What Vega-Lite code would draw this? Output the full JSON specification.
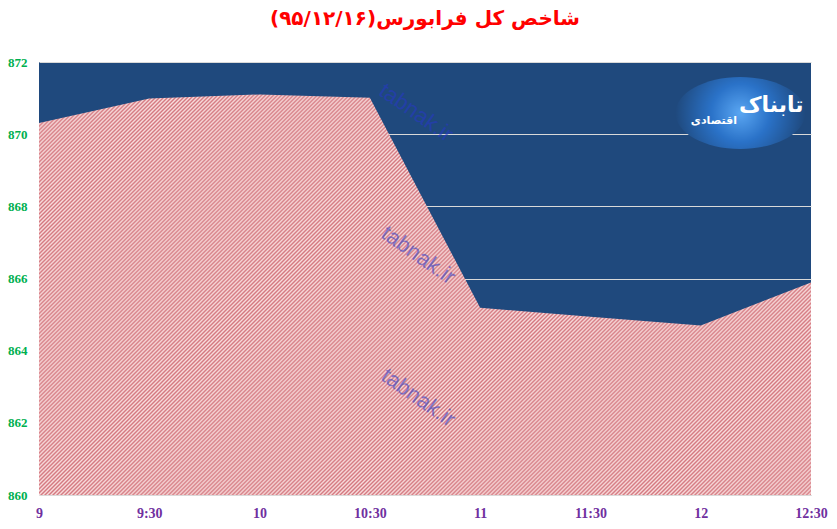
{
  "$schema": "https://vega.github.io/schema/vega-lite/v6.json",
  "width": 772,
  "height": 433,
  "autosize": "none",
  "padding": {"left": 39, "top": 62, "right": 26, "bottom": 34},
  "background": "white",
  "title": {
    "text": "شاخص کل فرابورس(۹۵/۱۲/۱۶)\u200f",
    "font": "DejaVu Sans",
    "fontSize": 20,
    "fontWeight": "bold",
    "color": "#ff0000",
    "anchor": "middle",
    "offset": 27
  },
  "config": {
    "view": {"fill": "#1f497d", "stroke": null}
  },
  "datasets": {
    "index": [
      {"time": "9", "hour": 9, "value": 870.31},
      {"time": "9:30", "hour": 9.5, "value": 870.99},
      {"time": "10", "hour": 10, "value": 871.1},
      {"time": "10:30", "hour": 10.5, "value": 871.01},
      {"time": "11", "hour": 11, "value": 865.19},
      {"time": "11:30", "hour": 11.5, "value": 864.94},
      {"time": "12", "hour": 12, "value": 864.7},
      {"time": "12:30", "hour": 12.5, "value": 865.89}
    ],
    "watermark": [
      {"label": "tabnak.ir", "hour": 10.71, "value": 870.6},
      {"label": "tabnak.ir", "hour": 10.72, "value": 866.65},
      {"label": "tabnak.ir", "hour": 10.72, "value": 862.7}
    ],
    "logo": [{"hour": 12.18, "value": 870.59}],
    "logoName": [{"label": "تابناک", "hour": 12.32, "value": 870.8}],
    "logoSub": [{"label": "اقتصادی", "hour": 12.06, "value": 870.36}]
  },
  "encoding": {
    "x": {
      "field": "hour",
      "type": "quantitative",
      "scale": {"domain": [9, 12.5], "nice": false, "zero": false},
      "axis": {
        "values": [9, 9.5, 10, 10.5, 11, 11.5, 12, 12.5],
        "labelExpr": "datum.value % 1 ? floor(datum.value) + ':30' : datum.value",
        "title": null,
        "grid": false,
        "ticks": false,
        "domainColor": "#d9d9d9",
        "labelColor": "#7030a0",
        "labelFont": "Liberation Sans Narrow",
        "labelFontSize": 14,
        "labelFontWeight": "bold",
        "labelPadding": 11,
        "labelFlush": false
      }
    },
    "y": {
      "field": "value",
      "type": "quantitative",
      "scale": {"domain": [860, 872], "nice": false, "zero": false},
      "axis": {
        "values": [860, 862, 864, 866, 868, 870, 872],
        "title": null,
        "ticks": false,
        "domain": false,
        "gridColor": "#d9d9d9",
        "gridWidth": 1,
        "labelColor": "#00b050",
        "labelFont": "Liberation Sans Narrow",
        "labelFontSize": 13,
        "labelFontWeight": "bold",
        "labelPadding": 12
      }
    }
  },
  "layer": [
    {
      "data": {"name": "index"},
      "encoding": {"y2": {"datum": 860}},
      "mark": {
        "type": "area",
        "interpolate": "linear",
        "color": {
          "gradient": "linear",
          "x1": 0, "y1": 0, "x2": 1.1966, "y2": 0.621,
          "stops": [
            {"offset": 0, "color": "#d47880"}, {"offset": 0.0017, "color": "#f8dcdc"}, {"offset": 0.0034, "color": "#d47880"}, {"offset": 0.0051, "color": "#f8dcdc"}, {"offset": 0.0068, "color": "#d47880"}, {"offset": 0.0085, "color": "#f8dcdc"}, {"offset": 0.0102, "color": "#d47880"}, {"offset": 0.0119, "color": "#f8dcdc"}, {"offset": 0.0136, "color": "#d47880"}, {"offset": 0.0153, "color": "#f8dcdc"},
            {"offset": 0.017, "color": "#d47880"}, {"offset": 0.0187, "color": "#f8dcdc"}, {"offset": 0.0204, "color": "#d47880"}, {"offset": 0.0221, "color": "#f8dcdc"}, {"offset": 0.0238, "color": "#d47880"}, {"offset": 0.0255, "color": "#f8dcdc"}, {"offset": 0.0272, "color": "#d47880"}, {"offset": 0.0289, "color": "#f8dcdc"}, {"offset": 0.0306, "color": "#d47880"}, {"offset": 0.0323, "color": "#f8dcdc"},
            {"offset": 0.034, "color": "#d47880"}, {"offset": 0.0357, "color": "#f8dcdc"}, {"offset": 0.0374, "color": "#d47880"}, {"offset": 0.0391, "color": "#f8dcdc"}, {"offset": 0.0408, "color": "#d47880"}, {"offset": 0.0425, "color": "#f8dcdc"}, {"offset": 0.0442, "color": "#d47880"}, {"offset": 0.0459, "color": "#f8dcdc"}, {"offset": 0.0476, "color": "#d47880"}, {"offset": 0.0493, "color": "#f8dcdc"},
            {"offset": 0.051, "color": "#d47880"}, {"offset": 0.0527, "color": "#f8dcdc"}, {"offset": 0.0544, "color": "#d47880"}, {"offset": 0.0561, "color": "#f8dcdc"}, {"offset": 0.0578, "color": "#d47880"}, {"offset": 0.0595, "color": "#f8dcdc"}, {"offset": 0.0612, "color": "#d47880"}, {"offset": 0.0629, "color": "#f8dcdc"}, {"offset": 0.0646, "color": "#d47880"}, {"offset": 0.0663, "color": "#f8dcdc"},
            {"offset": 0.068, "color": "#d47880"}, {"offset": 0.0697, "color": "#f8dcdc"}, {"offset": 0.0714, "color": "#d47880"}, {"offset": 0.0731, "color": "#f8dcdc"}, {"offset": 0.0748, "color": "#d47880"}, {"offset": 0.0765, "color": "#f8dcdc"}, {"offset": 0.0782, "color": "#d47880"}, {"offset": 0.0799, "color": "#f8dcdc"}, {"offset": 0.0816, "color": "#d47880"}, {"offset": 0.0833, "color": "#f8dcdc"},
            {"offset": 0.085, "color": "#d47880"}, {"offset": 0.0867, "color": "#f8dcdc"}, {"offset": 0.0884, "color": "#d47880"}, {"offset": 0.0901, "color": "#f8dcdc"}, {"offset": 0.0918, "color": "#d47880"}, {"offset": 0.0935, "color": "#f8dcdc"}, {"offset": 0.0952, "color": "#d47880"}, {"offset": 0.0969, "color": "#f8dcdc"}, {"offset": 0.0986, "color": "#d47880"}, {"offset": 0.1003, "color": "#f8dcdc"},
            {"offset": 0.102, "color": "#d47880"}, {"offset": 0.1037, "color": "#f8dcdc"}, {"offset": 0.1054, "color": "#d47880"}, {"offset": 0.1071, "color": "#f8dcdc"}, {"offset": 0.1088, "color": "#d47880"}, {"offset": 0.1105, "color": "#f8dcdc"}, {"offset": 0.1122, "color": "#d47880"}, {"offset": 0.1139, "color": "#f8dcdc"}, {"offset": 0.1156, "color": "#d47880"}, {"offset": 0.1173, "color": "#f8dcdc"},
            {"offset": 0.119, "color": "#d47880"}, {"offset": 0.1207, "color": "#f8dcdc"}, {"offset": 0.1224, "color": "#d47880"}, {"offset": 0.1241, "color": "#f8dcdc"}, {"offset": 0.1258, "color": "#d47880"}, {"offset": 0.1275, "color": "#f8dcdc"}, {"offset": 0.1292, "color": "#d47880"}, {"offset": 0.1309, "color": "#f8dcdc"}, {"offset": 0.1326, "color": "#d47880"}, {"offset": 0.1343, "color": "#f8dcdc"},
            {"offset": 0.136, "color": "#d47880"}, {"offset": 0.1377, "color": "#f8dcdc"}, {"offset": 0.1394, "color": "#d47880"}, {"offset": 0.1411, "color": "#f8dcdc"}, {"offset": 0.1428, "color": "#d47880"}, {"offset": 0.1445, "color": "#f8dcdc"}, {"offset": 0.1462, "color": "#d47880"}, {"offset": 0.1479, "color": "#f8dcdc"}, {"offset": 0.1496, "color": "#d47880"}, {"offset": 0.1513, "color": "#f8dcdc"},
            {"offset": 0.153, "color": "#d47880"}, {"offset": 0.1547, "color": "#f8dcdc"}, {"offset": 0.1564, "color": "#d47880"}, {"offset": 0.1581, "color": "#f8dcdc"}, {"offset": 0.1598, "color": "#d47880"}, {"offset": 0.1615, "color": "#f8dcdc"}, {"offset": 0.1632, "color": "#d47880"}, {"offset": 0.1649, "color": "#f8dcdc"}, {"offset": 0.1666, "color": "#d47880"}, {"offset": 0.1683, "color": "#f8dcdc"},
            {"offset": 0.17, "color": "#d47880"}, {"offset": 0.1717, "color": "#f8dcdc"}, {"offset": 0.1734, "color": "#d47880"}, {"offset": 0.1751, "color": "#f8dcdc"}, {"offset": 0.1768, "color": "#d47880"}, {"offset": 0.1785, "color": "#f8dcdc"}, {"offset": 0.1802, "color": "#d47880"}, {"offset": 0.1819, "color": "#f8dcdc"}, {"offset": 0.1836, "color": "#d47880"}, {"offset": 0.1853, "color": "#f8dcdc"},
            {"offset": 0.187, "color": "#d47880"}, {"offset": 0.1887, "color": "#f8dcdc"}, {"offset": 0.1904, "color": "#d47880"}, {"offset": 0.1921, "color": "#f8dcdc"}, {"offset": 0.1938, "color": "#d47880"}, {"offset": 0.1955, "color": "#f8dcdc"}, {"offset": 0.1972, "color": "#d47880"}, {"offset": 0.1989, "color": "#f8dcdc"}, {"offset": 0.2006, "color": "#d47880"}, {"offset": 0.2023, "color": "#f8dcdc"},
            {"offset": 0.204, "color": "#d47880"}, {"offset": 0.2057, "color": "#f8dcdc"}, {"offset": 0.2074, "color": "#d47880"}, {"offset": 0.2091, "color": "#f8dcdc"}, {"offset": 0.2108, "color": "#d47880"}, {"offset": 0.2125, "color": "#f8dcdc"}, {"offset": 0.2142, "color": "#d47880"}, {"offset": 0.2159, "color": "#f8dcdc"}, {"offset": 0.2176, "color": "#d47880"}, {"offset": 0.2193, "color": "#f8dcdc"},
            {"offset": 0.221, "color": "#d47880"}, {"offset": 0.2227, "color": "#f8dcdc"}, {"offset": 0.2244, "color": "#d47880"}, {"offset": 0.2261, "color": "#f8dcdc"}, {"offset": 0.2278, "color": "#d47880"}, {"offset": 0.2295, "color": "#f8dcdc"}, {"offset": 0.2312, "color": "#d47880"}, {"offset": 0.2329, "color": "#f8dcdc"}, {"offset": 0.2346, "color": "#d47880"}, {"offset": 0.2363, "color": "#f8dcdc"},
            {"offset": 0.238, "color": "#d47880"}, {"offset": 0.2397, "color": "#f8dcdc"}, {"offset": 0.2414, "color": "#d47880"}, {"offset": 0.2431, "color": "#f8dcdc"}, {"offset": 0.2448, "color": "#d47880"}, {"offset": 0.2465, "color": "#f8dcdc"}, {"offset": 0.2482, "color": "#d47880"}, {"offset": 0.2499, "color": "#f8dcdc"}, {"offset": 0.2516, "color": "#d47880"}, {"offset": 0.2533, "color": "#f8dcdc"},
            {"offset": 0.255, "color": "#d47880"}, {"offset": 0.2567, "color": "#f8dcdc"}, {"offset": 0.2584, "color": "#d47880"}, {"offset": 0.2601, "color": "#f8dcdc"}, {"offset": 0.2618, "color": "#d47880"}, {"offset": 0.2635, "color": "#f8dcdc"}, {"offset": 0.2652, "color": "#d47880"}, {"offset": 0.2669, "color": "#f8dcdc"}, {"offset": 0.2686, "color": "#d47880"}, {"offset": 0.2703, "color": "#f8dcdc"},
            {"offset": 0.272, "color": "#d47880"}, {"offset": 0.2737, "color": "#f8dcdc"}, {"offset": 0.2754, "color": "#d47880"}, {"offset": 0.2771, "color": "#f8dcdc"}, {"offset": 0.2788, "color": "#d47880"}, {"offset": 0.2805, "color": "#f8dcdc"}, {"offset": 0.2822, "color": "#d47880"}, {"offset": 0.2839, "color": "#f8dcdc"}, {"offset": 0.2856, "color": "#d47880"}, {"offset": 0.2873, "color": "#f8dcdc"},
            {"offset": 0.289, "color": "#d47880"}, {"offset": 0.2907, "color": "#f8dcdc"}, {"offset": 0.2924, "color": "#d47880"}, {"offset": 0.2941, "color": "#f8dcdc"}, {"offset": 0.2958, "color": "#d47880"}, {"offset": 0.2975, "color": "#f8dcdc"}, {"offset": 0.2992, "color": "#d47880"}, {"offset": 0.3009, "color": "#f8dcdc"}, {"offset": 0.3026, "color": "#d47880"}, {"offset": 0.3043, "color": "#f8dcdc"},
            {"offset": 0.306, "color": "#d47880"}, {"offset": 0.3077, "color": "#f8dcdc"}, {"offset": 0.3094, "color": "#d47880"}, {"offset": 0.3111, "color": "#f8dcdc"}, {"offset": 0.3128, "color": "#d47880"}, {"offset": 0.3145, "color": "#f8dcdc"}, {"offset": 0.3162, "color": "#d47880"}, {"offset": 0.3179, "color": "#f8dcdc"}, {"offset": 0.3196, "color": "#d47880"}, {"offset": 0.3213, "color": "#f8dcdc"},
            {"offset": 0.323, "color": "#d47880"}, {"offset": 0.3247, "color": "#f8dcdc"}, {"offset": 0.3264, "color": "#d47880"}, {"offset": 0.3281, "color": "#f8dcdc"}, {"offset": 0.3298, "color": "#d47880"}, {"offset": 0.3315, "color": "#f8dcdc"}, {"offset": 0.3332, "color": "#d47880"}, {"offset": 0.3349, "color": "#f8dcdc"}, {"offset": 0.3366, "color": "#d47880"}, {"offset": 0.3383, "color": "#f8dcdc"},
            {"offset": 0.34, "color": "#d47880"}, {"offset": 0.3417, "color": "#f8dcdc"}, {"offset": 0.3434, "color": "#d47880"}, {"offset": 0.3451, "color": "#f8dcdc"}, {"offset": 0.3468, "color": "#d47880"}, {"offset": 0.3485, "color": "#f8dcdc"}, {"offset": 0.3502, "color": "#d47880"}, {"offset": 0.3519, "color": "#f8dcdc"}, {"offset": 0.3536, "color": "#d47880"}, {"offset": 0.3553, "color": "#f8dcdc"},
            {"offset": 0.357, "color": "#d47880"}, {"offset": 0.3587, "color": "#f8dcdc"}, {"offset": 0.3604, "color": "#d47880"}, {"offset": 0.3621, "color": "#f8dcdc"}, {"offset": 0.3638, "color": "#d47880"}, {"offset": 0.3655, "color": "#f8dcdc"}, {"offset": 0.3672, "color": "#d47880"}, {"offset": 0.3689, "color": "#f8dcdc"}, {"offset": 0.3706, "color": "#d47880"}, {"offset": 0.3723, "color": "#f8dcdc"},
            {"offset": 0.374, "color": "#d47880"}, {"offset": 0.3757, "color": "#f8dcdc"}, {"offset": 0.3774, "color": "#d47880"}, {"offset": 0.3791, "color": "#f8dcdc"}, {"offset": 0.3808, "color": "#d47880"}, {"offset": 0.3825, "color": "#f8dcdc"}, {"offset": 0.3842, "color": "#d47880"}, {"offset": 0.3859, "color": "#f8dcdc"}, {"offset": 0.3876, "color": "#d47880"}, {"offset": 0.3893, "color": "#f8dcdc"},
            {"offset": 0.391, "color": "#d47880"}, {"offset": 0.3927, "color": "#f8dcdc"}, {"offset": 0.3944, "color": "#d47880"}, {"offset": 0.3961, "color": "#f8dcdc"}, {"offset": 0.3978, "color": "#d47880"}, {"offset": 0.3995, "color": "#f8dcdc"}, {"offset": 0.4012, "color": "#d47880"}, {"offset": 0.4029, "color": "#f8dcdc"}, {"offset": 0.4046, "color": "#d47880"}, {"offset": 0.4063, "color": "#f8dcdc"},
            {"offset": 0.408, "color": "#d47880"}, {"offset": 0.4097, "color": "#f8dcdc"}, {"offset": 0.4114, "color": "#d47880"}, {"offset": 0.4131, "color": "#f8dcdc"}, {"offset": 0.4148, "color": "#d47880"}, {"offset": 0.4165, "color": "#f8dcdc"}, {"offset": 0.4182, "color": "#d47880"}, {"offset": 0.4199, "color": "#f8dcdc"}, {"offset": 0.4216, "color": "#d47880"}, {"offset": 0.4233, "color": "#f8dcdc"},
            {"offset": 0.425, "color": "#d47880"}, {"offset": 0.4267, "color": "#f8dcdc"}, {"offset": 0.4284, "color": "#d47880"}, {"offset": 0.4301, "color": "#f8dcdc"}, {"offset": 0.4318, "color": "#d47880"}, {"offset": 0.4335, "color": "#f8dcdc"}, {"offset": 0.4352, "color": "#d47880"}, {"offset": 0.4369, "color": "#f8dcdc"}, {"offset": 0.4386, "color": "#d47880"}, {"offset": 0.4403, "color": "#f8dcdc"},
            {"offset": 0.442, "color": "#d47880"}, {"offset": 0.4437, "color": "#f8dcdc"}, {"offset": 0.4454, "color": "#d47880"}, {"offset": 0.4471, "color": "#f8dcdc"}, {"offset": 0.4488, "color": "#d47880"}, {"offset": 0.4505, "color": "#f8dcdc"}, {"offset": 0.4522, "color": "#d47880"}, {"offset": 0.4539, "color": "#f8dcdc"}, {"offset": 0.4556, "color": "#d47880"}, {"offset": 0.4573, "color": "#f8dcdc"},
            {"offset": 0.459, "color": "#d47880"}, {"offset": 0.4607, "color": "#f8dcdc"}, {"offset": 0.4624, "color": "#d47880"}, {"offset": 0.4641, "color": "#f8dcdc"}, {"offset": 0.4658, "color": "#d47880"}, {"offset": 0.4675, "color": "#f8dcdc"}, {"offset": 0.4692, "color": "#d47880"}, {"offset": 0.4709, "color": "#f8dcdc"}, {"offset": 0.4726, "color": "#d47880"}, {"offset": 0.4743, "color": "#f8dcdc"},
            {"offset": 0.476, "color": "#d47880"}, {"offset": 0.4777, "color": "#f8dcdc"}, {"offset": 0.4794, "color": "#d47880"}, {"offset": 0.4811, "color": "#f8dcdc"}, {"offset": 0.4828, "color": "#d47880"}, {"offset": 0.4845, "color": "#f8dcdc"}, {"offset": 0.4862, "color": "#d47880"}, {"offset": 0.4879, "color": "#f8dcdc"}, {"offset": 0.4896, "color": "#d47880"}, {"offset": 0.4913, "color": "#f8dcdc"},
            {"offset": 0.493, "color": "#d47880"}, {"offset": 0.4947, "color": "#f8dcdc"}, {"offset": 0.4964, "color": "#d47880"}, {"offset": 0.4981, "color": "#f8dcdc"}, {"offset": 0.4998, "color": "#d47880"}, {"offset": 0.5015, "color": "#f8dcdc"}, {"offset": 0.5032, "color": "#d47880"}, {"offset": 0.5049, "color": "#f8dcdc"}, {"offset": 0.5066, "color": "#d47880"}, {"offset": 0.5083, "color": "#f8dcdc"},
            {"offset": 0.51, "color": "#d47880"}, {"offset": 0.5117, "color": "#f8dcdc"}, {"offset": 0.5134, "color": "#d47880"}, {"offset": 0.5151, "color": "#f8dcdc"}, {"offset": 0.5168, "color": "#d47880"}, {"offset": 0.5185, "color": "#f8dcdc"}, {"offset": 0.5202, "color": "#d47880"}, {"offset": 0.5219, "color": "#f8dcdc"}, {"offset": 0.5236, "color": "#d47880"}, {"offset": 0.5253, "color": "#f8dcdc"},
            {"offset": 0.527, "color": "#d47880"}, {"offset": 0.5287, "color": "#f8dcdc"}, {"offset": 0.5304, "color": "#d47880"}, {"offset": 0.5321, "color": "#f8dcdc"}, {"offset": 0.5338, "color": "#d47880"}, {"offset": 0.5355, "color": "#f8dcdc"}, {"offset": 0.5372, "color": "#d47880"}, {"offset": 0.5389, "color": "#f8dcdc"}, {"offset": 0.5406, "color": "#d47880"}, {"offset": 0.5423, "color": "#f8dcdc"},
            {"offset": 0.544, "color": "#d47880"}, {"offset": 0.5457, "color": "#f8dcdc"}, {"offset": 0.5474, "color": "#d47880"}, {"offset": 0.5491, "color": "#f8dcdc"}, {"offset": 0.5508, "color": "#d47880"}, {"offset": 0.5525, "color": "#f8dcdc"}, {"offset": 0.5542, "color": "#d47880"}, {"offset": 0.5559, "color": "#f8dcdc"}, {"offset": 0.5576, "color": "#d47880"}, {"offset": 0.5593, "color": "#f8dcdc"},
            {"offset": 0.561, "color": "#d47880"}, {"offset": 0.5627, "color": "#f8dcdc"}, {"offset": 0.5644, "color": "#d47880"}, {"offset": 0.5661, "color": "#f8dcdc"}, {"offset": 0.5678, "color": "#d47880"}, {"offset": 0.5695, "color": "#f8dcdc"}, {"offset": 0.5712, "color": "#d47880"}, {"offset": 0.5729, "color": "#f8dcdc"}, {"offset": 0.5746, "color": "#d47880"}, {"offset": 0.5763, "color": "#f8dcdc"},
            {"offset": 0.578, "color": "#d47880"}, {"offset": 0.5797, "color": "#f8dcdc"}, {"offset": 0.5814, "color": "#d47880"}, {"offset": 0.5831, "color": "#f8dcdc"}, {"offset": 0.5848, "color": "#d47880"}, {"offset": 0.5865, "color": "#f8dcdc"}, {"offset": 0.5882, "color": "#d47880"}, {"offset": 0.5899, "color": "#f8dcdc"}, {"offset": 0.5916, "color": "#d47880"}, {"offset": 0.5933, "color": "#f8dcdc"},
            {"offset": 0.595, "color": "#d47880"}, {"offset": 0.5967, "color": "#f8dcdc"}, {"offset": 0.5984, "color": "#d47880"}, {"offset": 0.6001, "color": "#f8dcdc"}, {"offset": 0.6018, "color": "#d47880"}, {"offset": 0.6035, "color": "#f8dcdc"}, {"offset": 0.6052, "color": "#d47880"}, {"offset": 0.6069, "color": "#f8dcdc"}, {"offset": 0.6086, "color": "#d47880"}, {"offset": 0.6103, "color": "#f8dcdc"},
            {"offset": 0.612, "color": "#d47880"}, {"offset": 0.6137, "color": "#f8dcdc"}, {"offset": 0.6154, "color": "#d47880"}, {"offset": 0.6171, "color": "#f8dcdc"}, {"offset": 0.6188, "color": "#d47880"}, {"offset": 0.6205, "color": "#f8dcdc"}, {"offset": 0.6222, "color": "#d47880"}, {"offset": 0.6239, "color": "#f8dcdc"}, {"offset": 0.6256, "color": "#d47880"}, {"offset": 0.6273, "color": "#f8dcdc"},
            {"offset": 0.629, "color": "#d47880"}, {"offset": 0.6307, "color": "#f8dcdc"}, {"offset": 0.6324, "color": "#d47880"}, {"offset": 0.6341, "color": "#f8dcdc"}, {"offset": 0.6358, "color": "#d47880"}, {"offset": 0.6375, "color": "#f8dcdc"}, {"offset": 0.6392, "color": "#d47880"}, {"offset": 0.6409, "color": "#f8dcdc"}, {"offset": 0.6426, "color": "#d47880"}, {"offset": 0.6443, "color": "#f8dcdc"},
            {"offset": 0.646, "color": "#d47880"}, {"offset": 0.6477, "color": "#f8dcdc"}, {"offset": 0.6494, "color": "#d47880"}, {"offset": 0.6511, "color": "#f8dcdc"}, {"offset": 0.6528, "color": "#d47880"}, {"offset": 0.6545, "color": "#f8dcdc"}, {"offset": 0.6562, "color": "#d47880"}, {"offset": 0.6579, "color": "#f8dcdc"}, {"offset": 0.6596, "color": "#d47880"}, {"offset": 0.6613, "color": "#f8dcdc"},
            {"offset": 0.663, "color": "#d47880"}, {"offset": 0.6647, "color": "#f8dcdc"}, {"offset": 0.6664, "color": "#d47880"}, {"offset": 0.6681, "color": "#f8dcdc"}, {"offset": 0.6698, "color": "#d47880"}, {"offset": 0.6715, "color": "#f8dcdc"}, {"offset": 0.6732, "color": "#d47880"}, {"offset": 0.6749, "color": "#f8dcdc"}, {"offset": 0.6766, "color": "#d47880"}, {"offset": 0.6783, "color": "#f8dcdc"},
            {"offset": 0.68, "color": "#d47880"}, {"offset": 0.6817, "color": "#f8dcdc"}, {"offset": 0.6834, "color": "#d47880"}, {"offset": 0.6851, "color": "#f8dcdc"}, {"offset": 0.6868, "color": "#d47880"}, {"offset": 0.6885, "color": "#f8dcdc"}, {"offset": 0.6902, "color": "#d47880"}, {"offset": 0.6919, "color": "#f8dcdc"}, {"offset": 0.6936, "color": "#d47880"}, {"offset": 0.6953, "color": "#f8dcdc"},
            {"offset": 0.697, "color": "#d47880"}, {"offset": 0.6987, "color": "#f8dcdc"}, {"offset": 0.7004, "color": "#d47880"}, {"offset": 0.7021, "color": "#f8dcdc"}, {"offset": 0.7038, "color": "#d47880"}, {"offset": 0.7055, "color": "#f8dcdc"}, {"offset": 0.7072, "color": "#d47880"}, {"offset": 0.7089, "color": "#f8dcdc"}, {"offset": 0.7106, "color": "#d47880"}, {"offset": 0.7123, "color": "#f8dcdc"},
            {"offset": 0.714, "color": "#d47880"}, {"offset": 0.7157, "color": "#f8dcdc"}, {"offset": 0.7174, "color": "#d47880"}, {"offset": 0.7191, "color": "#f8dcdc"}, {"offset": 0.7208, "color": "#d47880"}, {"offset": 0.7225, "color": "#f8dcdc"}, {"offset": 0.7242, "color": "#d47880"}, {"offset": 0.7259, "color": "#f8dcdc"}, {"offset": 0.7276, "color": "#d47880"}, {"offset": 0.7293, "color": "#f8dcdc"},
            {"offset": 0.731, "color": "#d47880"}, {"offset": 0.7327, "color": "#f8dcdc"}, {"offset": 0.7344, "color": "#d47880"}, {"offset": 0.7361, "color": "#f8dcdc"}, {"offset": 0.7378, "color": "#d47880"}, {"offset": 0.7395, "color": "#f8dcdc"}, {"offset": 0.7412, "color": "#d47880"}, {"offset": 0.7429, "color": "#f8dcdc"}, {"offset": 0.7446, "color": "#d47880"}, {"offset": 0.7463, "color": "#f8dcdc"},
            {"offset": 0.748, "color": "#d47880"}, {"offset": 0.7497, "color": "#f8dcdc"}, {"offset": 0.7514, "color": "#d47880"}, {"offset": 0.7531, "color": "#f8dcdc"}, {"offset": 0.7548, "color": "#d47880"}, {"offset": 0.7565, "color": "#f8dcdc"}, {"offset": 0.7582, "color": "#d47880"}, {"offset": 0.7599, "color": "#f8dcdc"}, {"offset": 0.7616, "color": "#d47880"}, {"offset": 0.7633, "color": "#f8dcdc"},
            {"offset": 0.765, "color": "#d47880"}, {"offset": 0.7667, "color": "#f8dcdc"}, {"offset": 0.7684, "color": "#d47880"}, {"offset": 0.7701, "color": "#f8dcdc"}, {"offset": 0.7718, "color": "#d47880"}, {"offset": 0.7735, "color": "#f8dcdc"}, {"offset": 0.7752, "color": "#d47880"}, {"offset": 0.7769, "color": "#f8dcdc"}, {"offset": 0.7786, "color": "#d47880"}, {"offset": 0.7803, "color": "#f8dcdc"},
            {"offset": 0.782, "color": "#d47880"}, {"offset": 0.7837, "color": "#f8dcdc"}, {"offset": 0.7854, "color": "#d47880"}, {"offset": 0.7871, "color": "#f8dcdc"}, {"offset": 0.7888, "color": "#d47880"}, {"offset": 0.7905, "color": "#f8dcdc"}, {"offset": 0.7922, "color": "#d47880"}, {"offset": 0.7939, "color": "#f8dcdc"}, {"offset": 0.7956, "color": "#d47880"}, {"offset": 0.7973, "color": "#f8dcdc"},
            {"offset": 0.799, "color": "#d47880"}, {"offset": 0.8007, "color": "#f8dcdc"}, {"offset": 0.8024, "color": "#d47880"}, {"offset": 0.8041, "color": "#f8dcdc"}, {"offset": 0.8058, "color": "#d47880"}, {"offset": 0.8075, "color": "#f8dcdc"}, {"offset": 0.8092, "color": "#d47880"}, {"offset": 0.8109, "color": "#f8dcdc"}, {"offset": 0.8126, "color": "#d47880"}, {"offset": 0.8143, "color": "#f8dcdc"},
            {"offset": 0.816, "color": "#d47880"}, {"offset": 0.8177, "color": "#f8dcdc"}, {"offset": 0.8194, "color": "#d47880"}, {"offset": 0.8211, "color": "#f8dcdc"}, {"offset": 0.8228, "color": "#d47880"}, {"offset": 0.8245, "color": "#f8dcdc"}, {"offset": 0.8262, "color": "#d47880"}, {"offset": 0.8279, "color": "#f8dcdc"}, {"offset": 0.8296, "color": "#d47880"}, {"offset": 0.8313, "color": "#f8dcdc"},
            {"offset": 0.833, "color": "#d47880"}, {"offset": 0.8347, "color": "#f8dcdc"}, {"offset": 0.8364, "color": "#d47880"}, {"offset": 0.8381, "color": "#f8dcdc"}, {"offset": 0.8398, "color": "#d47880"}, {"offset": 0.8415, "color": "#f8dcdc"}, {"offset": 0.8432, "color": "#d47880"}, {"offset": 0.8449, "color": "#f8dcdc"}, {"offset": 0.8466, "color": "#d47880"}, {"offset": 0.8483, "color": "#f8dcdc"},
            {"offset": 0.85, "color": "#d47880"}, {"offset": 0.8517, "color": "#f8dcdc"}, {"offset": 0.8534, "color": "#d47880"}, {"offset": 0.8551, "color": "#f8dcdc"}, {"offset": 0.8568, "color": "#d47880"}, {"offset": 0.8585, "color": "#f8dcdc"}, {"offset": 0.8602, "color": "#d47880"}, {"offset": 0.8619, "color": "#f8dcdc"}, {"offset": 0.8636, "color": "#d47880"}, {"offset": 0.8653, "color": "#f8dcdc"},
            {"offset": 0.867, "color": "#d47880"}, {"offset": 0.8687, "color": "#f8dcdc"}, {"offset": 0.8704, "color": "#d47880"}, {"offset": 0.8721, "color": "#f8dcdc"}, {"offset": 0.8738, "color": "#d47880"}, {"offset": 0.8755, "color": "#f8dcdc"}, {"offset": 0.8772, "color": "#d47880"}, {"offset": 0.8789, "color": "#f8dcdc"}, {"offset": 0.8806, "color": "#d47880"}, {"offset": 0.8823, "color": "#f8dcdc"},
            {"offset": 0.884, "color": "#d47880"}, {"offset": 0.8857, "color": "#f8dcdc"}, {"offset": 0.8874, "color": "#d47880"}, {"offset": 0.8891, "color": "#f8dcdc"}, {"offset": 0.8908, "color": "#d47880"}, {"offset": 0.8925, "color": "#f8dcdc"}, {"offset": 0.8942, "color": "#d47880"}, {"offset": 0.8959, "color": "#f8dcdc"}, {"offset": 0.8976, "color": "#d47880"}, {"offset": 0.8993, "color": "#f8dcdc"},
            {"offset": 0.901, "color": "#d47880"}, {"offset": 0.9027, "color": "#f8dcdc"}, {"offset": 0.9044, "color": "#d47880"}, {"offset": 0.9061, "color": "#f8dcdc"}, {"offset": 0.9078, "color": "#d47880"}, {"offset": 0.9095, "color": "#f8dcdc"}, {"offset": 0.9112, "color": "#d47880"}, {"offset": 0.9129, "color": "#f8dcdc"}, {"offset": 0.9146, "color": "#d47880"}, {"offset": 0.9163, "color": "#f8dcdc"},
            {"offset": 0.918, "color": "#d47880"}, {"offset": 0.9197, "color": "#f8dcdc"}, {"offset": 0.9214, "color": "#d47880"}, {"offset": 0.9231, "color": "#f8dcdc"}, {"offset": 0.9248, "color": "#d47880"}, {"offset": 0.9265, "color": "#f8dcdc"}, {"offset": 0.9282, "color": "#d47880"}, {"offset": 0.9299, "color": "#f8dcdc"}, {"offset": 0.9316, "color": "#d47880"}, {"offset": 0.9333, "color": "#f8dcdc"},
            {"offset": 0.935, "color": "#d47880"}, {"offset": 0.9367, "color": "#f8dcdc"}, {"offset": 0.9384, "color": "#d47880"}, {"offset": 0.9401, "color": "#f8dcdc"}, {"offset": 0.9418, "color": "#d47880"}, {"offset": 0.9435, "color": "#f8dcdc"}, {"offset": 0.9452, "color": "#d47880"}, {"offset": 0.9469, "color": "#f8dcdc"}, {"offset": 0.9486, "color": "#d47880"}, {"offset": 0.9503, "color": "#f8dcdc"},
            {"offset": 0.952, "color": "#d47880"}, {"offset": 0.9537, "color": "#f8dcdc"}, {"offset": 0.9554, "color": "#d47880"}, {"offset": 0.9571, "color": "#f8dcdc"}, {"offset": 0.9588, "color": "#d47880"}, {"offset": 0.9605, "color": "#f8dcdc"}, {"offset": 0.9622, "color": "#d47880"}, {"offset": 0.9639, "color": "#f8dcdc"}, {"offset": 0.9656, "color": "#d47880"}, {"offset": 0.9673, "color": "#f8dcdc"},
            {"offset": 0.969, "color": "#d47880"}, {"offset": 0.9707, "color": "#f8dcdc"}, {"offset": 0.9724, "color": "#d47880"}, {"offset": 0.9741, "color": "#f8dcdc"}, {"offset": 0.9758, "color": "#d47880"}, {"offset": 0.9775, "color": "#f8dcdc"}, {"offset": 0.9792, "color": "#d47880"}, {"offset": 0.9809, "color": "#f8dcdc"}, {"offset": 0.9826, "color": "#d47880"}, {"offset": 0.9843, "color": "#f8dcdc"},
            {"offset": 0.986, "color": "#d47880"}, {"offset": 0.9877, "color": "#f8dcdc"}, {"offset": 0.9894, "color": "#d47880"}, {"offset": 0.9911, "color": "#f8dcdc"}, {"offset": 0.9928, "color": "#d47880"}, {"offset": 0.9945, "color": "#f8dcdc"}, {"offset": 0.9962, "color": "#d47880"}, {"offset": 0.9979, "color": "#f8dcdc"}, {"offset": 0.9996, "color": "#d47880"}, {"offset": 1, "color": "#f8dcdc"}
          ]
        }
      }
    },
    {
      "data": {"name": "watermark"},
      "mark": {
        "type": "text",
        "angle": 35,
        "font": "Liberation Sans",
        "fontSize": 22,
        "color": "#2838c8",
        "opacity": 0.55
      },
      "encoding": {"text": {"field": "label"}}
    },
    {
      "data": {"name": "logo"},
      "mark": {
        "type": "point",
        "filled": true,
        "size": 10000,
        "shape": "M-1.3,0 A1.3,0.72 0 1,0 1.3,0 A1.3,0.72 0 1,0 -1.3,0 Z",
        "opacity": 1,
        "color": {
          "gradient": "radial",
          "stops": [
            {"offset": 0, "color": "#5aa6f2"},
            {"offset": 0.45, "color": "#2a72c8"},
            {"offset": 1, "color": "#1f497d"}
          ]
        }
      }
    },
    {
      "data": {"name": "logoName"},
      "mark": {
        "type": "text",
        "font": "DejaVu Sans",
        "fontSize": 22,
        "fontWeight": "bold",
        "color": "white"
      },
      "encoding": {"text": {"field": "label"}}
    },
    {
      "data": {"name": "logoSub"},
      "mark": {
        "type": "text",
        "font": "DejaVu Sans",
        "fontSize": 11,
        "fontWeight": "bold",
        "color": "white"
      },
      "encoding": {"text": {"field": "label"}}
    }
  ]
}
